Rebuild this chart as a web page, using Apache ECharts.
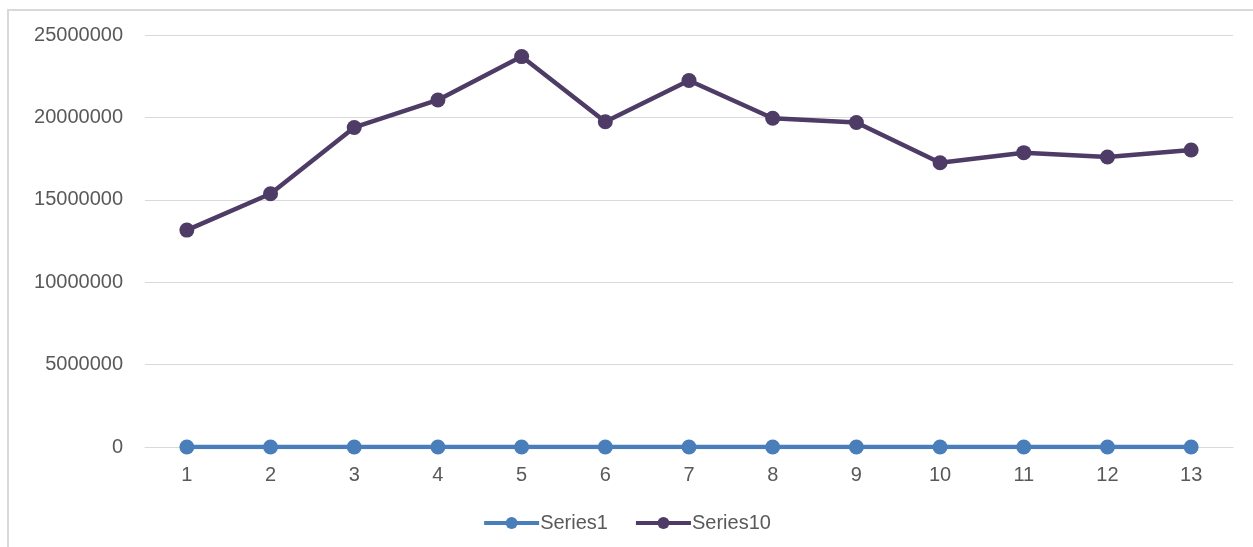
<!DOCTYPE html>
<html>
<head>
<meta charset="utf-8">
<script src="https://cdn.jsdelivr.net/npm/echarts@6/dist/echarts.min.js"></script>
<style>
  html, body { margin: 0; padding: 0; background: #fff; }
  #chart { width: 1253px; height: 547px; }
</style>
</head>
<body>
<div id="chart"></div>
<script>
// data
const categories = ['1', '2', '3', '4', '5', '6', '7', '8', '9', '10', '11', '12', '13'];
const series1 = [0, 0, 0, 0, 0, 0, 0, 0, 0, 0, 0, 0, 0];
const series10 = [13160000, 15370000, 19390000, 21060000, 23690000, 19740000, 22240000,
                  19950000, 19690000, 17250000, 17860000, 17600000, 18020000];

const textColor = '#595959';
const gridColor = '#d9d9d9';
const font = 'Liberation Sans';
const blue = '#4a7ebb';
const purple = '#4e3b66';

const chart = echarts.init(document.getElementById('chart'));

chart.setOption({
    animation: false,
    graphic: [{
        type: 'rect', silent: true,
        shape: { x: 8, y: 10, width: 1400, height: 700 },
        style: { fill: 'none', stroke: gridColor, lineWidth: 2 }
    }],
    grid: { left: 145, right: 20, top: 35, bottom: 100 },
    legend: {
        bottom: 9, left: 'center',
        itemWidth: 55, itemHeight: 15, itemGap: 26,
        textStyle: { color: textColor, fontFamily: font, fontSize: 20, padding: [0, 0, 0, -4] },
        data: [
            { name: 'Series1', lineStyle: { width: 4 } },
            { name: 'Series10', lineStyle: { width: 4 } }
        ]
    },
    xAxis: {
        type: 'category', data: categories, boundaryGap: true,
        axisLine: { lineStyle: { color: gridColor, width: 1 } },
        axisTick: { show: false },
        axisLabel: { color: textColor, fontFamily: font, fontSize: 20, margin: 18 }
    },
    yAxis: {
        type: 'value', min: 0, max: 25000000, interval: 5000000,
        axisLine: { show: false }, axisTick: { show: false },
        splitLine: { lineStyle: { color: gridColor, width: 1 } },
        axisLabel: {
            color: textColor, fontFamily: font, fontSize: 20, margin: 22,
            formatter: v => String(v)
        }
    },
    series: [{
        name: 'Series1', type: 'line', data: series1,
        symbol: 'circle', symbolSize: 15,
        lineStyle: { color: blue, width: 4.5 },
        itemStyle: { color: blue }
    }, {
        name: 'Series10', type: 'line', data: series10,
        symbol: 'circle', symbolSize: 15,
        lineStyle: { color: purple, width: 4.5 },
        itemStyle: { color: purple }
    }]
});
</script>
</body>
</html>
